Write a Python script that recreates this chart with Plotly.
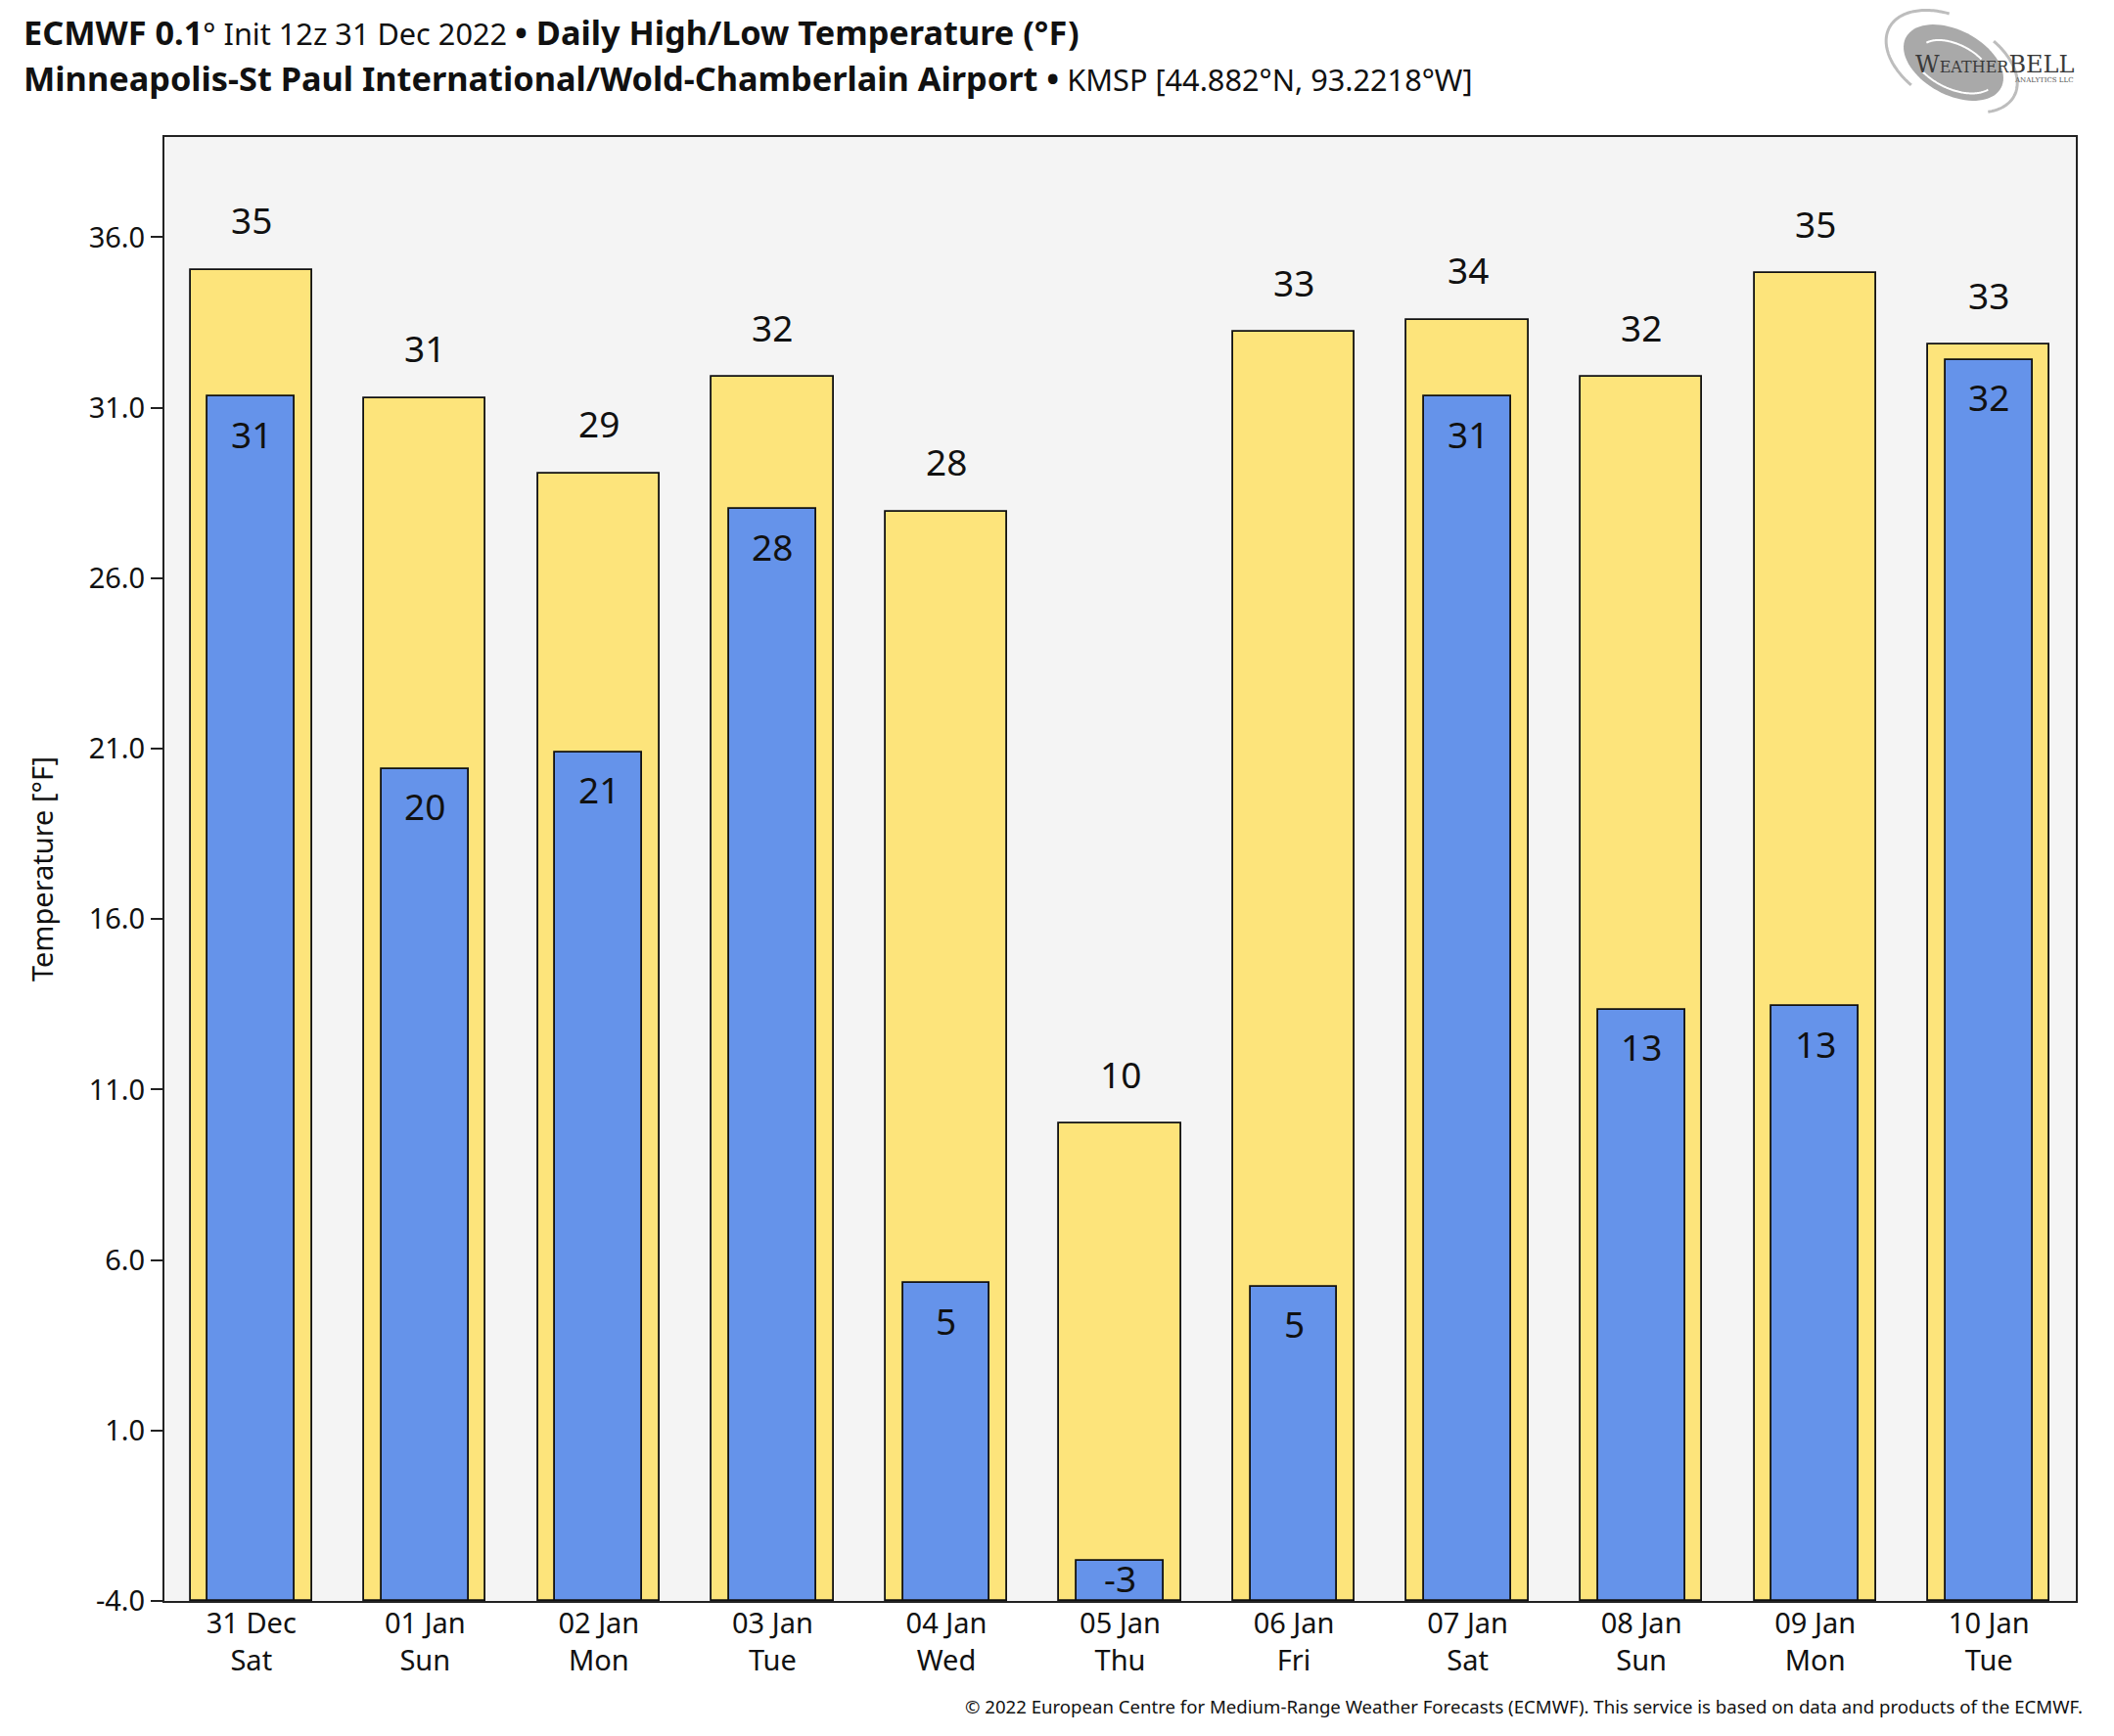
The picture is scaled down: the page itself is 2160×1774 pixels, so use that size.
import numpy as np
import plotly.graph_objects as go

# ---------------- data ----------------
dates = ["31 Dec", "01 Jan", "02 Jan", "03 Jan", "04 Jan", "05 Jan",
         "06 Jan", "07 Jan", "08 Jan", "09 Jan", "10 Jan"]
weekdays = ["Sat", "Sun", "Mon", "Tue", "Wed", "Thu", "Fri", "Sat", "Sun", "Mon", "Tue"]
highs = [35.05, 31.28, 29.08, 31.90, 27.95, 10.0, 33.22, 33.58, 31.90, 34.95, 32.85]
lows = [31.33, 20.40, 20.90, 28.02, 5.32, -2.83, 5.22, 31.33, 13.35, 13.45, 32.40]
y_ticks = [-4.0, 1.0, 6.0, 11.0, 16.0, 21.0, 26.0, 31.0, 36.0]
y_min, y_max = -4.0, 38.94

categories = [f"{d}<br>{w}" for d, w in zip(dates, weekdays)]

# ---------------- geometry (page pixels) ----------------
W, H = 2160, 1774
OFF = 8  # the html page body margin shifts the figure by this much
L, R, T, B = 168, 2121, 140, 1636
PW, PH = R - L, B - T


def px(x):
    return (x - L) / PW


def py(y):
    return (B - y) / PH


FONT = "Noto Sans"
TXT = "#111111"
YELLOW = "#fde47b"
BLUE = "#6593ea"

fig = go.Figure()
fig.add_trace(go.Bar(
    x=categories, y=[h - y_min for h in highs], base=y_min, width=0.7,
    marker=dict(color=YELLOW, line=dict(color="#111111", width=1.8)),
    hoverinfo="skip", showlegend=False))
fig.add_trace(go.Bar(
    x=categories, y=[l - y_min for l in lows], base=y_min, width=0.5,
    marker=dict(color=BLUE, line=dict(color="#111111", width=1.8)),
    hoverinfo="skip", showlegend=False))

ppu = PH / (y_max - y_min)
annotations = []
for c, h in zip(categories, highs):
    annotations.append(dict(x=c, y=h, xref="x", yref="y", text=f"{round(h):d}",
                            showarrow=False, yshift=51, yanchor="middle",
                            font=dict(family=FONT, size=37, color=TXT)))
for c, l in zip(categories, lows):
    ly = max(l - 38 / ppu, (l + y_min) / 2 + 3 / ppu)
    annotations.append(dict(x=c, y=ly, xref="x", yref="y", text=f"{round(l):d}",
                            showarrow=False, yanchor="middle",
                            font=dict(family=FONT, size=37, color=TXT)))

# titles
B1 = "<span style='font-size:34.3px'><b>"
B2 = "</b></span>"
annotations.append(dict(
    x=px(22), y=py(33), xref="paper", yref="paper", xanchor="left", yanchor="middle",
    showarrow=False,
    text=f"{B1}ECMWF 0.1{B2}° Init 12z 31 Dec 2022 {B1}• Daily High/Low Temperature (°F){B2}",
    font=dict(family=FONT, size=30.7, color=TXT)))
annotations.append(dict(
    x=px(22), y=py(79), xref="paper", yref="paper", xanchor="left", yanchor="middle",
    showarrow=False,
    text=f"{B1}Minneapolis-St Paul International/Wold-Chamberlain Airport •{B2} KMSP [44.882°N, 93.2218°W]",
    font=dict(family=FONT, size=30.7, color=TXT)))
annotations.append(dict(
    x=px(2130), y=py(1743), xref="paper", yref="paper", xanchor="right", yanchor="middle",
    showarrow=False,
    text="© 2022 European Centre for Medium-Range Weather Forecasts (ECMWF). This service is based on data and products of the ECMWF.",
    font=dict(family=FONT, size=18.6, color=TXT)))

# logo text
annotations.append(dict(
    x=px(2121), y=py(66), xref="paper", yref="paper", xanchor="right", yanchor="middle",
    showarrow=False,
    text="W<span style='font-size:16px'>EATHER</span>BELL",
    font=dict(family="DejaVu Serif", size=24, color="#3a3a3a")))
annotations.append(dict(
    x=px(2121), y=py(82), xref="paper", yref="paper", xanchor="right", yanchor="middle",
    showarrow=False, text="ANALYTICS LLC",
    font=dict(family="DejaVu Serif", size=7, color="#555555")))


def ellipse_path(cx, cy, rx, ry, rot_deg, a0=0, a1=360, closed=True, n=80):
    t = np.radians(np.linspace(a0, a1, n))
    r = np.radians(rot_deg)
    xs = cx + rx * np.cos(t) * np.cos(r) - ry * np.sin(t) * np.sin(r)
    ys = cy + rx * np.cos(t) * np.sin(r) + ry * np.sin(t) * np.cos(r)
    pts = [f"{px(a):.5f},{py(b):.5f}" for a, b in zip(xs, ys)]
    p = "M " + " L ".join(pts)
    return p + (" Z" if closed else "")


shapes = [
    dict(type="path", xref="paper", yref="paper", path=ellipse_path(1996, 64, 55, 33, 28),
         fillcolor="#a9a9a9", line=dict(width=0), layer="below"),
    dict(type="path", xref="paper", yref="paper",
         path=ellipse_path(1994, 62, 72, 44, 28, 110, 250, closed=False),
         line=dict(color="#bdbdbd", width=3)),
    dict(type="path", xref="paper", yref="paper",
         path=ellipse_path(1998, 66, 68, 42, 28, 290, 400, closed=False),
         line=dict(color="#bdbdbd", width=3)),
    dict(type="path", xref="paper", yref="paper",
         path=ellipse_path(1998, 68, 40, 22, 28, 200, 300, closed=False),
         line=dict(color="#ffffff", width=2)),
    dict(type="path", xref="paper", yref="paper",
         path=ellipse_path(1996, 62, 48, 28, 28, 20, 120, closed=False),
         line=dict(color="#ffffff", width=2)),
]

fig.update_layout(
    width=W, height=H,
    margin=dict(l=L - OFF, r=W - R + OFF, t=T - OFF, b=H - B + OFF, pad=0),
    paper_bgcolor="white", plot_bgcolor="#f4f4f4",
    barmode="overlay", bargap=0,
    annotations=annotations, shapes=shapes,
    font=dict(family=FONT, color=TXT),
    xaxis=dict(
        type="category", range=[-0.5, 10.5], showgrid=False, zeroline=False,
        showline=True, linecolor="#222222", linewidth=2, mirror=True, ticks="",
        ticklabelstandoff=-4,
        tickfont=dict(family=FONT, size=29, color=TXT)),
    yaxis=dict(
        range=[y_min, y_max], tickvals=y_ticks, ticktext=[f"{v:.1f}" for v in y_ticks],
        showgrid=False, zeroline=False, showline=True, linecolor="#222222",
        linewidth=2, mirror=True, ticks="outside", ticklen=12, tickwidth=1.5,
        tickcolor="#222222", tickfont=dict(family=FONT, size=29, color=TXT),
        title=dict(text="Temperature [°F]", standoff=28,
                   font=dict(family=FONT, size=29, color=TXT))),
)

fig.write_html("out.html")
